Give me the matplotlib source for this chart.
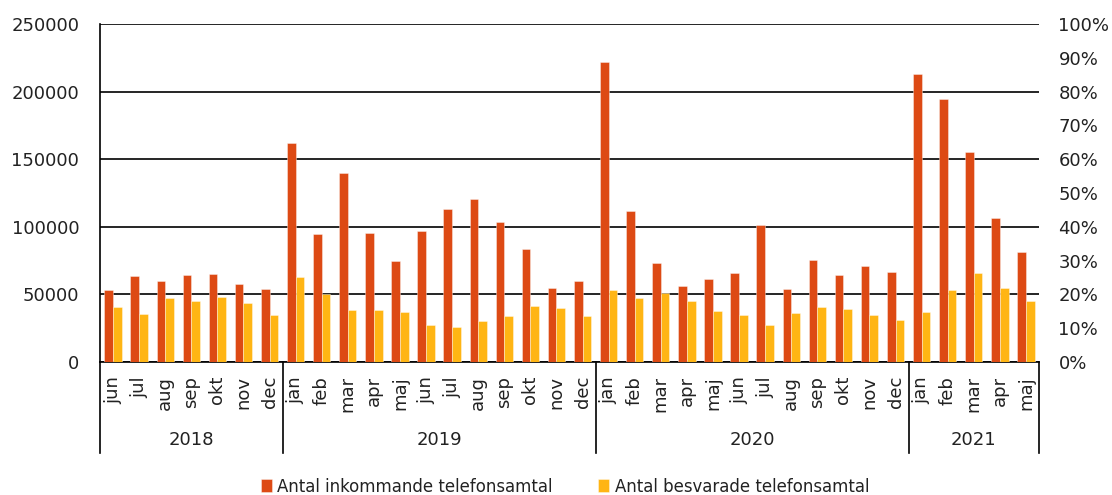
import matplotlib
matplotlib.use("Agg")
import matplotlib.pyplot as plt
import matplotlib.transforms as mtransforms
from matplotlib import font_manager
from matplotlib.ticker import FuncFormatter, MultipleLocator
import numpy as np

# ---- data ----
months = ['jun', 'jul', 'aug', 'sep', 'okt', 'nov', 'dec',
          'jan', 'feb', 'mar', 'apr', 'maj', 'jun', 'jul', 'aug', 'sep', 'okt', 'nov', 'dec',
          'jan', 'feb', 'mar', 'apr', 'maj', 'jun', 'jul', 'aug', 'sep', 'okt', 'nov', 'dec',
          'jan', 'feb', 'mar', 'apr', 'maj']
years = ['2018', '2019', '2020', '2021']
year_counts = [7, 12, 12, 5]

incoming = [53000, 63400, 59900, 64100, 65100, 57700, 54000,
            162300, 94700, 140100, 95200, 74700, 96700, 113000, 120600, 103600, 83600, 54500, 59900,
            222000, 111500, 73500, 56000, 61200, 65600, 101600, 54300, 75500, 64100, 71000, 66400,
            212900, 194800, 155400, 106300, 81200]
answered = [40500, 35500, 47600, 45100, 47900, 43400, 34800,
            62900, 50500, 38500, 38500, 37000, 27400, 25900, 30600, 34000, 41200, 40000, 34000,
            53500, 47400, 51100, 44900, 37500, 34800, 27400, 36000, 40700, 39200, 34500, 30800,
            36800, 53000, 65600, 54800, 45100]
series_names = ['Antal inkommande telefonsamtal', 'Antal besvarade telefonsamtal']

ORANGE = '#DD4A14'
YELLOW = '#FFB514'

plt.rcParams['font.family'] = ['DejaVu Sans']


def _is_regular(f):
    w = f.weight
    if isinstance(w, str):
        ok_w = w in ('normal', 'regular', 'book', 400)
    else:
        ok_w = int(w) == 400
    return ok_w and f.style == 'normal'


# pick a narrow regular font for the legend if one is installed
legend_prop = font_manager.FontProperties(family='DejaVu Sans', size=11.5)
cands = []
for f in font_manager.fontManager.ttflist:
    name = f.name.lower()
    fn = f.fname.lower()
    narrow = ('narrow' in name or 'condensed' in name or 'narrow' in fn or 'condensed' in fn
              or f.stretch in ('condensed', 'semi-condensed'))
    if narrow and _is_regular(f) and 'bold' not in fn and 'oblique' not in fn and 'italic' not in fn:
        pri = 0 if 'liberation' in name else 1
        cands.append((pri, f.fname))
if cands:
    cands.sort()
    legend_prop = font_manager.FontProperties(fname=cands[0][1], size=13.2)

fig = plt.figure(figsize=(11.12, 4.95), dpi=100)
ax = fig.add_axes([100 / 1112, 1 - 362 / 495, 939 / 1112, 338 / 495])

x = np.arange(len(months))
w = 1 / 3
b1 = ax.bar(x - w / 2, incoming, width=w, color=ORANGE, edgecolor=(1, 1, 1, 0.45),
            linewidth=0.6, label=series_names[0], zorder=3)
b2 = ax.bar(x + w / 2, answered, width=w, color=YELLOW, edgecolor=(1, 1, 1, 0.45),
            linewidth=0.6, label=series_names[1], zorder=3)

ax.set_xlim(-0.5, len(months) - 0.5)
ax.set_ylim(0, 250000)
ax.yaxis.set_major_locator(MultipleLocator(50000))
ax.yaxis.grid(True, color='black', linewidth=1.2, zorder=0)
ax.set_axisbelow(True)

ax.set_xticks(x)
ax.set_xticklabels(months, rotation=90, fontsize=13)
ax.tick_params(axis='x', length=0, pad=10)
ax.tick_params(axis='y', length=0, pad=15, labelsize=13, colors='#222222')
ax.tick_params(axis='x', colors='#222222')

for s in ['top', 'right']:
    ax.spines[s].set_visible(False)
ax.spines['left'].set_color('black')
ax.spines['left'].set_linewidth(1.2)
ax.spines['bottom'].set_color('black')
ax.spines['bottom'].set_linewidth(1.2)

# secondary axis
ax2 = ax.twinx()
ax2.set_ylim(0, 1)
ax2.yaxis.set_major_locator(MultipleLocator(0.1))
ax2.yaxis.set_major_formatter(FuncFormatter(lambda v, p: f"{round(v * 100)}%"))
ax2.tick_params(axis='y', length=0, pad=14, labelsize=13, colors='#222222')
for s in ['top', 'right', 'left', 'bottom']:
    ax2.spines[s].set_visible(False)

# year grouping
trans = mtransforms.blended_transform_factory(ax.transData, ax.transAxes)
sep_bottom = -(453 - 362) / 338
year_y = -(440 - 362) / 338
bounds = [-0.5]
for n in year_counts:
    bounds.append(bounds[-1] + n)
for bx in bounds:
    ax.plot([bx, bx], [0, sep_bottom], transform=trans, color='black', linewidth=1.2,
            clip_on=False, zorder=5)
for i, yr in enumerate(years):
    ax.text((bounds[i] + bounds[i + 1]) / 2, year_y, yr, transform=trans, ha='center',
            va='center', fontsize=13, color='#222222')

leg = fig.legend(handles=[b1, b2], labels=series_names, loc='center',
                 bbox_to_anchor=(565 / 1112, 1 - 487 / 495), ncol=2, frameon=False,
                 handlelength=0.6, handleheight=0.7, handletextpad=0.3, columnspacing=2.5,
                 prop=legend_prop)
for t in leg.get_texts():
    t.set_color('#222222')

fig.savefig('out.png', dpi=100)
